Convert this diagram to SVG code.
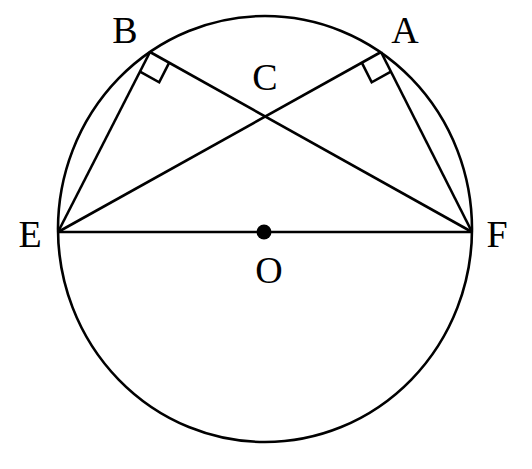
<svg xmlns="http://www.w3.org/2000/svg" width="532" height="469" viewBox="0 0 532 469">
<style>
.ln{fill:none;stroke:#000;stroke-width:2.6;stroke-linejoin:miter}
.lb{font-family:"Liberation Serif","Times New Roman",serif;font-size:38px;fill:#000;text-anchor:middle}
</style>
<rect width="532" height="469" fill="#fff"/>
<g id="circle"><ellipse class="ln" cx="265" cy="229" rx="207" ry="213"/></g>
<g id="connectors">
<line class="ln" x1="58" y1="232" x2="472" y2="232"/>
<line class="ln" x1="58" y1="232" x2="150" y2="52"/>
<line class="ln" x1="150" y1="52" x2="472" y2="232"/>
<line class="ln" x1="58" y1="232" x2="381" y2="52"/>
<line class="ln" x1="381" y1="52" x2="472" y2="232"/>
<polyline class="ln" points="169.2,62.7 159.2,82.3 140,71.6"/>
<polyline class="ln" points="361.8,62.7 371.7,82.3 390.9,71.6"/>
</g>
<g id="O"><circle cx="264" cy="232" r="7.5" fill="#000"/><text class="lb" x="269" y="283">O</text></g>
<g id="A"><text class="lb" x="405" y="43">A</text></g>
<g id="B"><text class="lb" x="125" y="43">B</text></g>
<g id="C"><text class="lb" x="265" y="90">C</text></g>
<g id="E"><text class="lb" x="30" y="247">E</text></g>
<g id="F"><text class="lb" x="497" y="247">F</text></g>
</svg>
